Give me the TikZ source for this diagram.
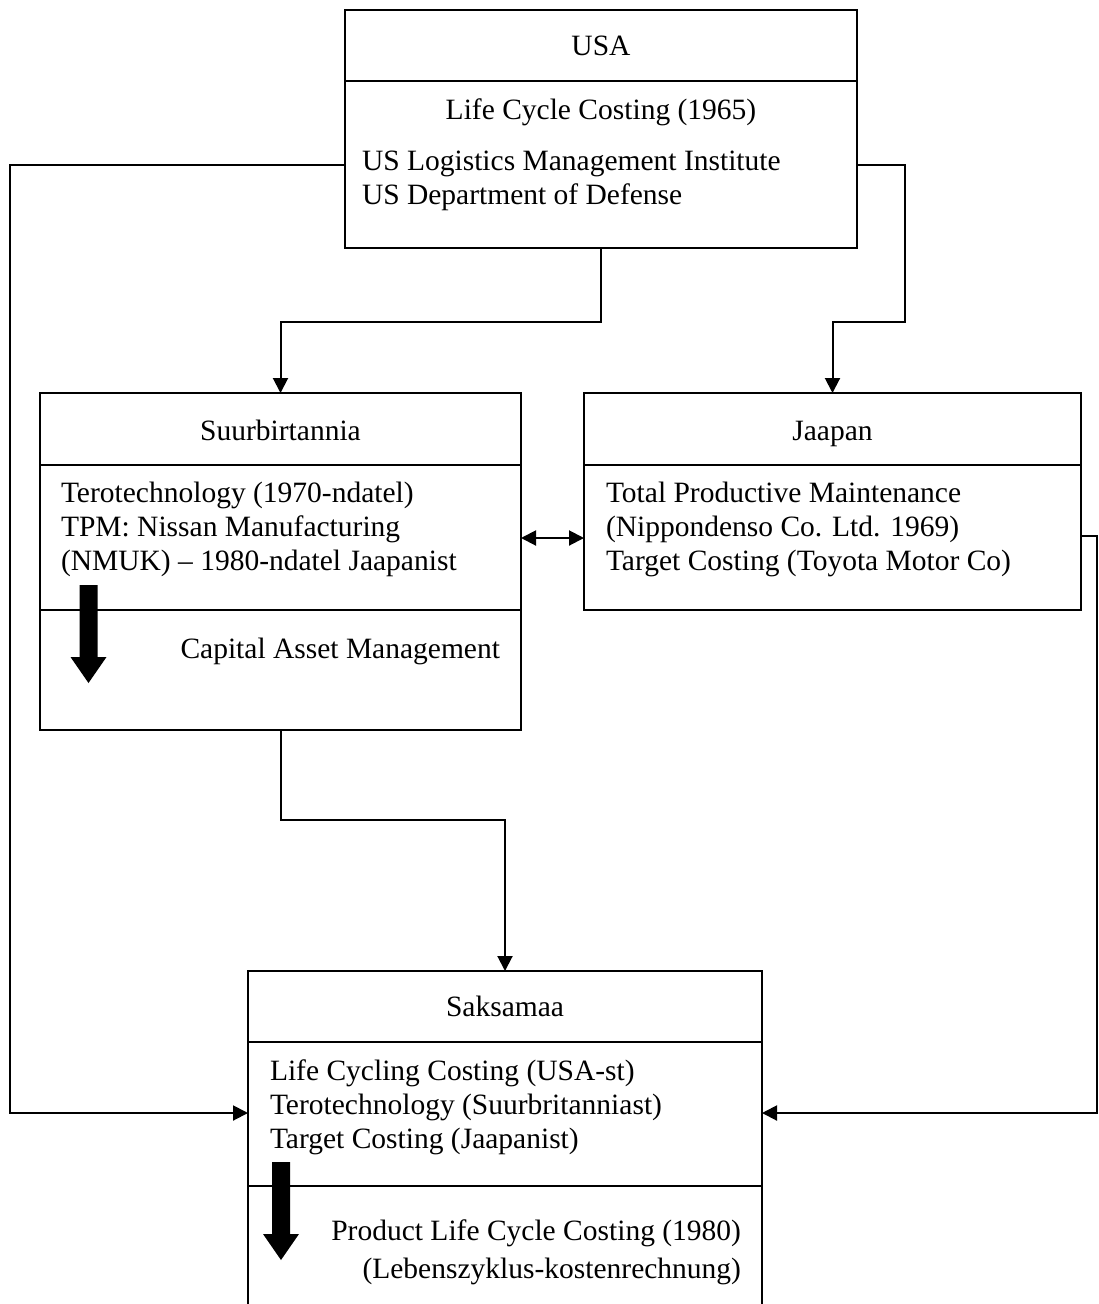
\documentclass[tikz,border=0pt]{standalone}
\usepackage{fontspec}
\setmainfont{Liberation Serif}
\usetikzlibrary{arrows.meta}
\begin{document}
\begin{tikzpicture}[x=1pt,y=-1pt,
  box/.style={draw, line width=2pt, rectangle, inner sep=0pt, outer sep=0pt, anchor=north west},
  rule/.style={line width=1.6pt},
  conn/.style={line width=2pt},
  tip/.style={-{Triangle[width=15pt,length=15pt]}},
  bitip/.style={{Triangle[width=15pt,length=15pt]}-{Triangle[width=15pt,length=15pt]}},
  txt/.style={inner sep=0pt, outer sep=0pt, font=\fontsize{29.5}{34}\selectfont},
  bigdown/.pic={\fill (-9,0) -- (9,0) -- (9,72) -- (18,72) -- (0,98) -- (-18,72) -- (-9,72) -- cycle;}
]
\useasboundingbox (0,0) rectangle (1099,1304);

% boxes
\node[box, minimum width=512pt, minimum height=238pt] (usa) at (345,10) {};
\node[box, minimum width=481pt, minimum height=337pt] (suk) at (40,393) {};
\node[box, minimum width=497pt, minimum height=217pt] (jap) at (584,393) {};
\node[box, draw=none, minimum width=514pt, minimum height=340pt] (sak) at (248,971) {};
\draw[line width=2pt] (sak.south west) -- (sak.north west) -- (sak.north east) -- (sak.south east);

% dividers
\coordinate (d1) at (0,81);
\coordinate (d2) at (0,465);
\coordinate (d3) at (0,610);
\coordinate (d4) at (0,1042);
\coordinate (d5) at (0,1186);
\draw[rule] (usa.west |- d1) -- (usa.east |- d1);
\draw[rule] (suk.west |- d2) -- (suk.east |- d2);
\draw[rule] (suk.west |- d3) -- (suk.east |- d3);
\draw[rule] (jap.west |- d2) -- (jap.east |- d2);
\draw[rule] (sak.west |- d4) -- (sak.east |- d4);
\draw[rule] (sak.west |- d5) -- (sak.east |- d5);

% USA
\node[txt, anchor=base] (usaT) at (601,55) {USA};
\node[txt, anchor=base] (usa0) at (601,119) {Life Cycle Costing (1965)};
\node[txt, anchor=base west] (usa1) at (362,170) {US Logistics Management Institute};
\node[txt, anchor=base west] (usa2) at (362,204) {US Department of Defense};

% Suurbritannia
\node[txt, anchor=base] (sukT) at (280.5,440) {Suurbirtannia};
\node[txt, anchor=base west] (suk1) at (61,502) {Terotechnology (1970-ndatel)};
\node[txt, anchor=base west] (suk2) at (61,536) {TPM: Nissan Manufacturing};
\node[txt, anchor=base west] (suk3) at (61,570) {(NMUK) -- 1980-ndatel Jaapanist};
\node[txt, anchor=base east] (suk4) at (500,658) {Capital Asset Management};
\pic at (88.5,585) {bigdown};

% Jaapan
\node[txt, anchor=base] (japT) at (832.5,440) {Jaapan};
\node[txt, anchor=base west] (jap1) at (606,502) {Total Productive Maintenance};
\node[txt, anchor=base west] (jap2) at (606,536) {(Nippondenso Co. Ltd. 1969)};
\node[txt, anchor=base west] (jap3) at (606,570) {Target Costing (Toyota Motor Co)};

% Saksamaa
\node[txt, anchor=base] (sakT) at (505,1016) {Saksamaa};
\node[txt, anchor=base west] (sak1) at (270,1080) {Life Cycling Costing (USA-st)};
\node[txt, anchor=base west] (sak2) at (270,1114) {Terotechnology (Suurbritanniast)};
\node[txt, anchor=base west] (sak3) at (270,1148) {Target Costing (Jaapanist)};
\node[txt, anchor=base east] (sak4) at (741,1240) {Product Life Cycle Costing (1980)};
\node[txt, anchor=base east] (sak5) at (741,1278) {(Lebenszyklus-kostenrechnung)};
\pic at (281,1162) {bigdown};

% connectors
\coordinate (uL) at (10,165);
\coordinate (uR) at (905,165);
\coordinate (midY) at (0,322);
\coordinate (lowY) at (0,820);
\coordinate (sY) at (0,1113);
\coordinate (dY) at (0,538);
\coordinate (jR) at (1097,536);

\draw[conn,tip] (usa.west |- uL) -- (uL) |- (sak.west |- sY);
\draw[conn,tip] (usa.east |- uR) -- (uR) |- (jap.north |- midY) -- (jap.north);
\draw[conn,tip] (usa.south) -- (usa.south |- midY) -| (suk.north);
\draw[conn,bitip] (suk.east |- dY) -- (jap.west |- dY);
\draw[conn,tip] (jap.east |- jR) -- (jR) |- (sak.east |- sY);
\draw[conn,tip] (suk.south) -- (suk.south |- lowY) -| (sak.north);
\end{tikzpicture}
\end{document}
